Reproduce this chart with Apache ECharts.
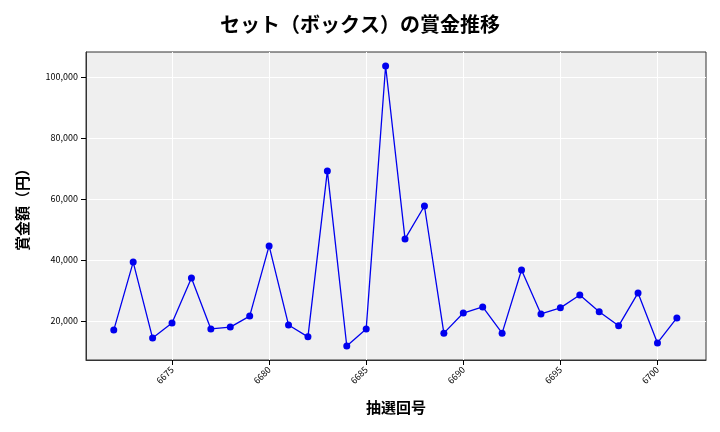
<!DOCTYPE html>
<html><head><meta charset="utf-8">
<script src="https://cdn.jsdelivr.net/npm/echarts@6/dist/echarts.min.js"></script>
<style>html,body{margin:0;padding:0;background:#fff}#c{width:720px;height:432px}</style>
</head><body><div id="c"></div>
<script>
const rounds = [6672,6673,6674,6675,6676,6677,6678,6679,6680,6681,6682,6683,6684,6685,6686,6687,6688,6689,6690,6691,6692,6693,6694,6695,6696,6697,6698,6699,6700,6701];
const prizes = [17000,39300,14400,19300,34100,17400,18000,21600,44600,18700,14800,69200,11800,17400,103600,46900,57700,16000,22600,24600,16000,36700,22300,24300,28500,23000,18400,29200,12800,21000];
const xTicks = [6675,6680,6685,6690,6695,6700];
const yTicks = [20000,40000,60000,80000,100000];
const font = "'Noto Sans CJK JP','Noto Sans',sans-serif";
const chart = echarts.init(document.getElementById('c'));
chart.setOption({
  title:{text:'セット（ボックス）の賞金推移',left:'center',top:9,textStyle:{fontFamily:font,fontSize:20,fontWeight:'bold',color:'#000'}},
  grid:{left:86,right:14,top:52,bottom:72,show:true,backgroundColor:'#efefef',borderWidth:1,borderColor:'#333'},
  xAxis:{type:'value',min:6670.57,max:6702.5,name:'抽選回号',nameLocation:'middle',nameGap:40,
    nameTextStyle:{fontFamily:font,fontSize:15,fontWeight:'bold',color:'#000'},
    axisLine:{show:true,lineStyle:{color:'#333'}},
    axisTick:{show:true,customValues:xTicks,lineStyle:{color:'#000'}},
    axisLabel:{customValues:xTicks,rotate:45,fontSize:9,color:'#000',fontFamily:font,formatter:v=>String(v)},
    splitLine:{show:true,lineStyle:{color:'#fff',width:1}}},
  yAxis:{type:'value',min:7200,max:108200,name:'賞金額（円）',nameLocation:'middle',nameGap:56,
    nameTextStyle:{fontFamily:font,fontSize:15,fontWeight:'bold',color:'#000'},
    axisLine:{show:true,lineStyle:{color:'#333'}},
    axisTick:{show:true,customValues:yTicks,lineStyle:{color:'#000'}},
    axisLabel:{customValues:yTicks,fontSize:9,color:'#000',fontFamily:font,formatter:v=>v.toLocaleString('en-US')},
    splitLine:{show:true,lineStyle:{color:'#fff',width:1}}},
  series:[{type:'line',data:rounds.map((r,i)=>[r,prizes[i]]),symbol:'circle',symbolSize:7,
    lineStyle:{color:'#0000ee',width:1.3},itemStyle:{color:'#0000ee'},animation:false}]
});
</script></body></html>
